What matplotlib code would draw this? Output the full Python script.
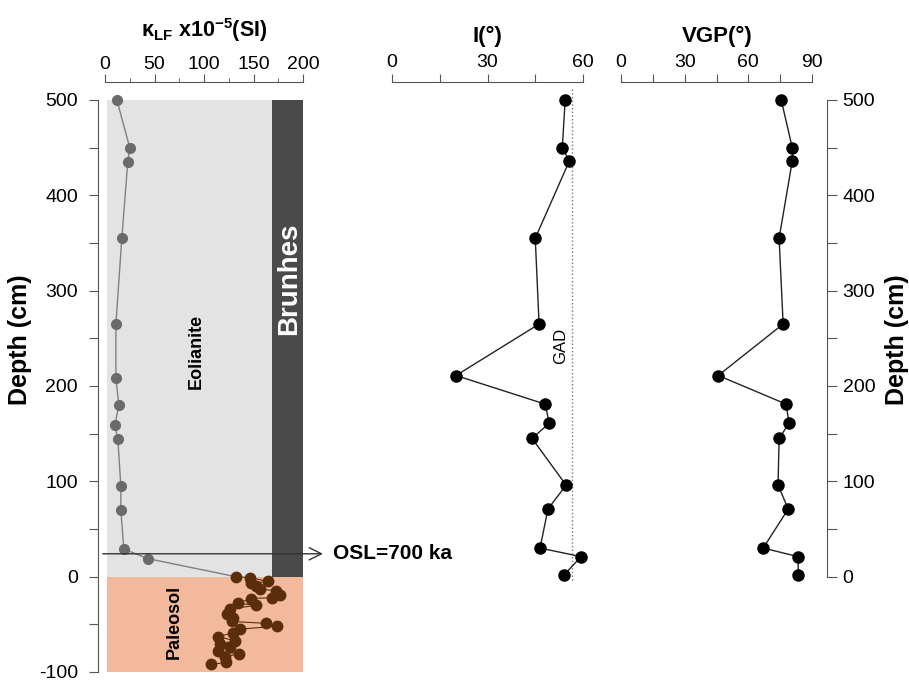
import matplotlib
matplotlib.use("Agg")
import matplotlib.pyplot as plt
from matplotlib.ticker import MultipleLocator

plt.rcParams['font.family'] = ['Liberation Sans', 'DejaVu Sans']
plt.rcParams['mathtext.fontset'] = 'custom'
plt.rcParams['mathtext.rm'] = 'Liberation Sans'
plt.rcParams['mathtext.bf'] = 'Liberation Sans:bold'

# magnetic susceptibility, eolianite part (depth cm, kappa x10^-5 SI)
eol_depth = [500, 450, 435, 355, 265, 208, 180, 159, 144, 95, 70, 29, 19, 0]
eol_kappa = [12, 25, 23, 17, 11, 11, 14, 10, 13, 16, 16, 19, 43, 132]

# paleosol part
pal_depth = [0, -1, -5, -7, -10, -13, -15, -19, -22, -23, -28, -30, -34, -39, -43,
             -47, -49, -52, -55, -59, -63, -67, -71, -74, -78, -81, -84, -90, -92]
pal_kappa = [132, 146, 165, 147, 153, 157, 173, 177, 169, 147, 134, 153, 126, 123, 129,
             128, 163, 174, 136, 129, 114, 131, 116, 126, 114, 135, 121, 122, 107]

# palaeomagnetic directions
pm_depth = [500, 450, 436, 355, 265, 211, 181, 161, 145, 96, 71, 30, 21, 2]
incl = [54.4, 53.5, 55.7, 45.0, 46.2, 20.1, 48.1, 49.4, 44.0, 54.7, 49.0, 46.5, 59.4, 54.1]
vgp = [75.5, 80.7, 80.7, 74.5, 76.4, 45.8, 77.8, 79.2, 74.5, 74.0, 78.8, 67.0, 83.5, 83.5]

gad = 56.6
osl_depth = 24

W, H = 909, 682
fig = plt.figure(figsize=(W / 100, H / 100), dpi=100)

def box(x0, x1):
    # pixel columns -> figure fraction, shared vertical extent
    y_top, y_bot = 100, 672
    return [x0 / W, 1 - y_bot / H, (x1 - x0) / W, (y_bot - y_top) / H]

ax1 = fig.add_axes(box(105, 303))
ax2 = fig.add_axes(box(392, 583))
ax3 = fig.add_axes(box(621, 812))

spine_col = '#555555'
for ax in (ax1, ax2, ax3):
    ax.set_ylim(-100, 500)
    ax.patch.set_visible(False)
    for s in ax.spines.values():
        s.set_visible(False)
        s.set_color(spine_col)
    ax.spines['top'].set_visible(True)
    ax.spines['top'].set_position(('outward', 13))
    ax.xaxis.set_ticks_position('top')
    ax.tick_params(axis='x', which='both', direction='out', color=spine_col,
                   labelsize=14, pad=2)
    ax.tick_params(axis='x', which='major', length=6)
    ax.tick_params(axis='x', which='minor', length=3)
    ax.set_yticks([])

# --- susceptibility panel ---
ax1.set_xlim(0, 200)
ax1.set_xticks([0, 50, 100, 150, 200])
ax1.xaxis.set_minor_locator(MultipleLocator(25))
ax1.tick_params(axis='x', which='both', pad=0.5)
ax1.spines['top'].set_bounds(0, 200)
ax1.spines['left'].set_visible(True)
ax1.spines['left'].set_position(('outward', 5))
ax1.spines['left'].set_bounds(-100, 500)
ax1.set_yticks(range(-100, 501, 50))
ax1.set_yticklabels([str(v) if v % 100 == 0 else '' for v in range(-100, 501, 50)])
ax1.tick_params(axis='y', direction='out', length=6.5, color=spine_col, labelsize=14, pad=8)

ax1.axhspan(0, 500, xmin=0.01, xmax=0.85, color='#e3e3e3', lw=0, zorder=0)
ax1.axhspan(0, 500, xmin=0.845, xmax=1.0, color='#4a4a4a', lw=0, zorder=0)
ax1.axhspan(-100, 0, xmin=0.01, xmax=1.0, color='#f3b99d', lw=0, zorder=0)

ax1.plot(eol_kappa, eol_depth, color='#808080', lw=1, zorder=2)
ax1.plot(eol_kappa[:-1], eol_depth[:-1], 'o', color='#6a6a6a', ms=7, zorder=3, clip_on=False)
ax1.plot(pal_kappa, pal_depth, '-o', color='#5b2d0c', lw=0.8, ms=7.5, zorder=3)

ax1.text(92, 236, 'Eolianite', rotation=90, ha='center', va='center',
         fontsize=13, fontweight='bold')
ax1.text(186, 313, 'Brunhes', rotation=90, ha='center', va='center',
         fontsize=20, fontweight='bold', color='white')
ax1.text(70, -48, 'Paleosol', rotation=90, ha='center', va='center',
         fontsize=13, fontweight='bold')

ax1.annotate('', xy=(223, osl_depth), xytext=(-5, osl_depth),
             arrowprops=dict(arrowstyle='->', lw=1, color='#333333', mutation_scale=22),
             annotation_clip=False)
ax1.text(230, osl_depth, 'OSL=700 ka', ha='left', va='center',
         fontsize=15, fontweight='bold')

# --- inclination panel ---
ax2.set_xlim(0, 60)
ax2.set_xticks([0, 15, 30, 45, 60])
ax2.set_xticklabels(['0', '', '30', '', '60'])
ax2.spines['top'].set_bounds(0, 60)
ax2.plot([gad, gad], [-3, 514], ls=':', color='#777777', lw=1, clip_on=False)
ax2.text(gad - 1.2, 242, 'GAD', rotation=90, ha='right', va='center', fontsize=12)
ax2.plot(incl, pm_depth, '-o', color='#222222', mfc='black', mec='black',
         lw=1, ms=8, clip_on=False)

# --- VGP panel ---
ax3.set_xlim(0, 90)
ax3.set_xticks(range(0, 91, 15))
ax3.set_xticklabels([str(v) if v % 30 == 0 else '' for v in range(0, 91, 15)])
ax3.spines['top'].set_bounds(0, 90)
ax3.spines['right'].set_visible(True)
ax3.spines['right'].set_position(('outward', 11))
ax3.spines['right'].set_bounds(0, 500)
ax3.yaxis.set_ticks_position('right')
ax3.set_yticks(range(0, 501, 50))
ax3.set_yticklabels([str(v) if v % 100 == 0 else '' for v in range(0, 501, 50)])
ax3.tick_params(axis='y', direction='out', length=7, color=spine_col, labelsize=14, pad=4)
ax3.plot(vgp, pm_depth, '-o', color='#222222', mfc='black', mec='black',
         lw=1, ms=8, clip_on=False)

# titles and axis labels
fig.text(204 / W, 1 - 30 / H, r'κ$_{\mathbf{LF}}$ x10$^{\mathbf{-5}}$(SI)',
         ha='center', va='center', fontsize=15.5, fontweight='bold')
fig.text(487 / W, 1 - 36 / H, 'I(°)', ha='center', va='center', fontsize=16, fontweight='bold')
fig.text(717 / W, 1 - 36 / H, 'VGP(°)', ha='center', va='center', fontsize=16, fontweight='bold')
fig.text(20 / W, 1 - 340 / H, 'Depth (cm)', rotation=90, ha='center', va='center',
         fontsize=18, fontweight='bold')
fig.text(897 / W, 1 - 340 / H, 'Depth (cm)', rotation=90, ha='center', va='center',
         fontsize=18, fontweight='bold')

fig.savefig('out.png', dpi=100)
